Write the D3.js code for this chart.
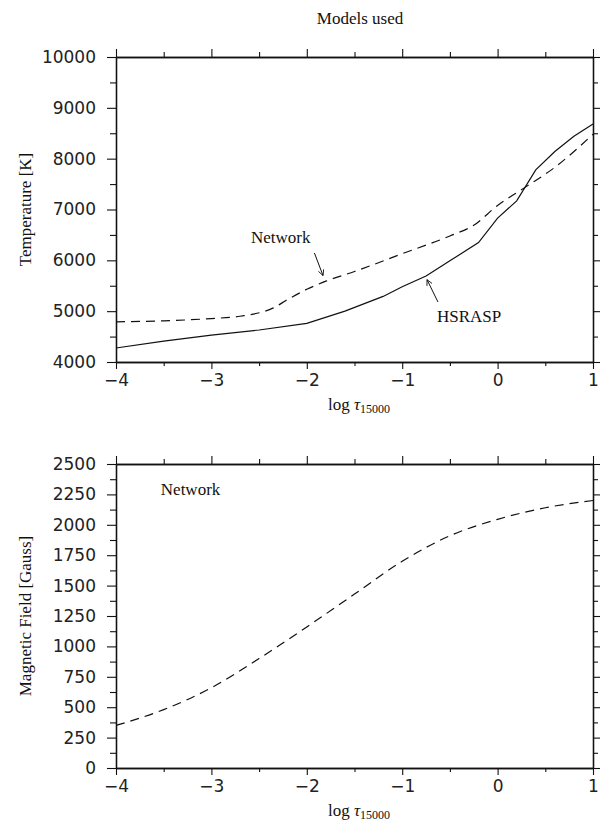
<!DOCTYPE html>
<html>
<head>
<meta charset="utf-8">
<script src="https://cdn.jsdelivr.net/npm/d3@7"></script>
<style>
  body { margin: 0; background: #fff; }
  .tick text { font-family: "DejaVu Sans", sans-serif; font-size: 17px; fill: #222; }
  .lab { font-family: "Liberation Serif", serif; font-size: 17px; fill: #111; }
</style>
</head>
<body>
<svg id="chart" width="600" height="823"></svg>
<script>
// log tau grid and the two temperature models
let tauHsra = [-4, -3.5, -3, -2.5, -2, -1.6, -1.2, -1, -0.75, -0.5, -0.2, 0, 0.2, 0.4, 0.6, 0.8, 1];
let tempHsra = [4276, 4410, 4530, 4630, 4760, 5000, 5290, 5480, 5690, 5990, 6350, 6830, 7170, 7780, 8140, 8440, 8680];

let tauNet = [-4, -3.5, -3, -2.7, -2.35, -2.2, -2, -1.8, -1.5, -1, -0.5, -0.25, 0, 0.3, 0.6, 1];
let tempNet = [4790, 4810, 4855, 4900, 5065, 5230, 5430, 5590, 5780, 6130, 6480, 6690, 7080, 7450, 7830, 8480];

// magnetic field of the network model
let tauB = [-4, -3.5, -3, -2.5, -2, -1.5, -1, -0.5, 0, 0.5, 1];
let fieldB = [350, 480, 660, 900, 1160, 1430, 1700, 1910, 2045, 2140, 2200];

let xTicks = [-4, -3, -2, -1, 0, 1];
let tTicks = [4000, 5000, 6000, 7000, 8000, 9000, 10000];
let bTicks = [0, 250, 500, 750, 1000, 1250, 1500, 1750, 2000, 2250, 2500];

const svg = d3.select('#chart');
const left = 116, right = 593;

let x = d3.scaleLinear().domain([-4, 1]).range([left, right]);
let yT = d3.scaleLinear().domain([4000, 10000]).range([362, 57]);
let yB = d3.scaleLinear().domain([0, 2500]).range([768, 464]);

svg.append('defs').append('marker')
  .attr('id', 'arr')
  .attr('viewBox', '0 0 10 10')
  .attr('refX', 9).attr('refY', 5)
  .attr('markerWidth', 7).attr('markerHeight', 7)
  .attr('orient', 'auto')
  .append('path')
  .attr('d', 'M1,1 L9,5 L1,9')
  .attr('fill', 'none').attr('stroke', '#111').attr('stroke-width', 1.2);

function frame(y, major, minor, top, bottom) {
  let g = svg.append('g');
  let minorX = d3.range(-3.5, 1, 1);
  // bottom axis
  g.append('g').attr('transform', `translate(0,${bottom})`)
    .call(d3.axisBottom(x).tickValues(xTicks).tickSize(7).tickPadding(5).tickFormat(d3.format('d')).tickSizeOuter(0));
  g.append('g').attr('transform', `translate(0,${bottom})`)
    .call(d3.axisBottom(x).tickValues(minorX).tickSize(4).tickFormat('').tickSizeOuter(0));
  // top axis
  g.append('g').attr('transform', `translate(0,${top})`)
    .call(d3.axisTop(x).tickValues(xTicks).tickSize(8).tickFormat('').tickSizeOuter(0));
  g.append('g').attr('transform', `translate(0,${top})`)
    .call(d3.axisTop(x).tickValues(minorX).tickSize(5).tickFormat('').tickSizeOuter(0));
  // left axis
  g.append('g').attr('transform', `translate(${left},0)`)
    .call(d3.axisLeft(y).tickValues(major).tickSize(9).tickPadding(11).tickFormat(d3.format('d')).tickSizeOuter(0));
  g.append('g').attr('transform', `translate(${left},0)`)
    .call(d3.axisLeft(y).tickValues(minor).tickSize(6).tickFormat('').tickSizeOuter(0));
  // right axis
  g.append('g').attr('transform', `translate(${right},0)`)
    .call(d3.axisRight(y).tickValues(major).tickSize(8).tickFormat('').tickSizeOuter(0));
  g.append('g').attr('transform', `translate(${right},0)`)
    .call(d3.axisRight(y).tickValues(minor).tickSize(5).tickFormat('').tickSizeOuter(0));
  g.selectAll('.domain').attr('stroke', '#111').attr('stroke-width', 1.3);
  g.selectAll('.tick line').attr('stroke', '#111').attr('stroke-width', 1.1);
  return g;
}

let tMinor = d3.range(4500, 10000, 1000);
let bMinor = d3.range(125, 2500, 250);
frame(yT, tTicks, tMinor, 57, 362);
frame(yB, bTicks, bMinor, 464, 768);

// curves
let lineT = d3.line().x(d => x(d[0])).y(d => yT(d[1]));
let smoothT = d3.line().x(d => x(d[0])).y(d => yT(d[1])).curve(d3.curveMonotoneX);
let smoothB = d3.line().x(d => x(d[0])).y(d => yB(d[1])).curve(d3.curveMonotoneX);

svg.append('path')
  .attr('d', lineT(d3.zip(tauHsra, tempHsra)))
  .attr('fill', 'none').attr('stroke', '#111').attr('stroke-width', 1.2);

svg.append('path')
  .attr('d', smoothT(d3.zip(tauNet, tempNet)))
  .attr('fill', 'none').attr('stroke', '#111').attr('stroke-width', 1.2)
  .attr('stroke-dasharray', '9,6');

svg.append('path')
  .attr('d', smoothB(d3.zip(tauB, fieldB)))
  .attr('fill', 'none').attr('stroke', '#111').attr('stroke-width', 1.2)
  .attr('stroke-dasharray', '9,6');

// annotations
svg.append('line')
  .attr('x1', x(-1.92)).attr('y1', yT(6144))
  .attr('x2', x(-1.83)).attr('y2', yT(5700))
  .attr('stroke', '#111').attr('stroke-width', 1).attr('marker-end', 'url(#arr)');
svg.append('text').attr('class', 'lab')
  .attr('x', x(-2.585)).attr('y', yT(6341)).text('Network');

svg.append('line')
  .attr('x1', x(-0.625)).attr('y1', yT(5180))
  .attr('x2', x(-0.74)).attr('y2', yT(5620))
  .attr('stroke', '#111').attr('stroke-width', 1).attr('marker-end', 'url(#arr)');
svg.append('text').attr('class', 'lab')
  .attr('x', x(-0.635)).attr('y', yT(4787)).text('HSRASP');

svg.append('text').attr('class', 'lab')
  .attr('x', x(-3.53)).attr('y', yB(2245)).text('Network');

// titles
svg.append('text').attr('class', 'lab')
  .attr('x', 360).attr('y', 24).attr('text-anchor', 'middle').text('Models used');

function xTitle(yPos) {
  let t = svg.append('text').attr('class', 'lab')
    .attr('x', 359).attr('y', yPos).attr('text-anchor', 'middle');
  t.append('tspan').text('log ');
  t.append('tspan').attr('font-style', 'italic').text('τ');
  t.append('tspan').attr('font-size', '12px').attr('dy', 3).text('15000');
}
xTitle(410);
xTitle(816);

svg.append('text').attr('class', 'lab')
  .attr('transform', `translate(31,${(57 + 362) / 2}) rotate(-90)`)
  .attr('text-anchor', 'middle').text('Temperature [K]');
svg.append('text').attr('class', 'lab')
  .attr('transform', `translate(31,${(464 + 768) / 2}) rotate(-90)`)
  .attr('text-anchor', 'middle').text('Magnetic Field [Gauss]');
</script>
</body>
</html>
